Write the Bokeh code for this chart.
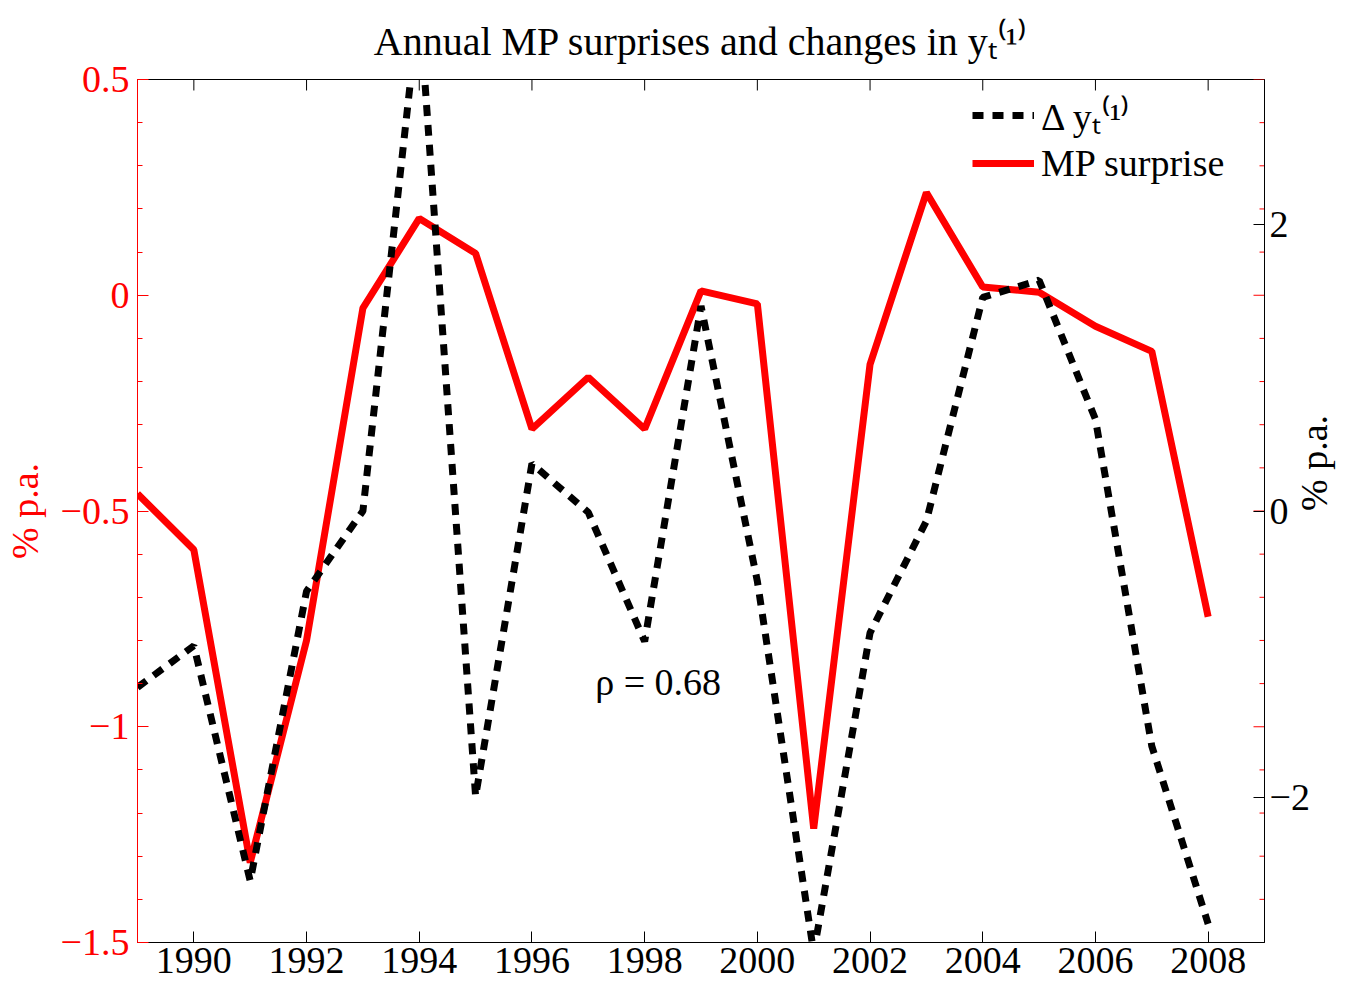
import math
from bokeh.plotting import figure
from bokeh.models import Range1d, LinearAxis, FixedTicker, Legend, LegendItem, Label
from bokeh.embed import file_html
from bokeh.resources import INLINE

# ---- data ----
years = list(range(1989, 2009))
mp_surprise = [-0.46, -0.59, -1.315, -0.80, -0.03, 0.178, 0.097, -0.31, -0.19, -0.31,
               0.01, -0.02, -1.236, -0.16, 0.238, 0.019, 0.007, -0.072, -0.13, -0.745]
delta_y1 = [-1.23, -0.94, -2.58, -0.56, 0.0, 3.55, -1.99, 0.33, -0.01, -0.91,
            1.43, -0.49, -3.08, -0.85, -0.07, 1.49, 1.61, 0.64, -1.64, -2.88]
x_ticks = [1990, 1992, 1994, 1996, 1998, 2000, 2002, 2004, 2006, 2008]
left_ticks = [-1.5, -1.0, -0.5, 0.0, 0.5]
left_labels = ["\u22121.5", "\u22121", "\u22120.5", "0", "0.5"]
left_minor = [round(-1.5 + 0.1 * i, 1) for i in range(21)]
right_ticks = [-2, 0, 2]
right_labels = ["\u22122", "0", "2"]
rho_text = "\u03c1 = 0.68"

FONT = "Liberation Serif"
FS = "38px"
X0, X1 = 1989, 2009
YL0, YL1 = -1.5, 0.5
YR0, YR1 = -3.01, 3.01

W, H = 1358, 987
BL, BR, BT, BB = 136, 94, 78, 45
FW = W - BL - BR
FH = H - BT - BB

p = figure(width=W, height=H, x_range=Range1d(X0, X1), y_range=Range1d(YL0, YL1),
           output_backend="svg", toolbar_location=None,
           min_border_left=BL, min_border_right=BR, min_border_top=BT, min_border_bottom=BB)
p.extra_y_ranges = {"right": Range1d(YR0, YR1)}
p.grid.visible = False
p.outline_line_color = "black"
p.outline_line_width = 1

p.title.text = "Annual MP surprises and changes in y\u209c\u207d\u00b9\u207e"
p.title.align = "center"
p.title.text_font = FONT
p.title.text_font_size = "40px"
p.title.text_font_style = "normal"
p.title.text_color = "black"
p.title.standoff = 32

# bottom axis
xa = p.xaxis[0]
xa.ticker = FixedTicker(ticks=x_ticks, minor_ticks=[])
xa.major_label_text_font = FONT
xa.major_label_text_font_size = FS
xa.major_label_text_color = "black"
xa.major_tick_in = 11
xa.major_tick_out = 0
xa.minor_tick_line_color = None
xa.major_label_standoff = 5
xa.axis_line_color = "black"

# left axis (red)
ya = p.yaxis[0]
ya.ticker = FixedTicker(ticks=left_ticks, minor_ticks=left_minor)
ya.major_label_overrides = {t: l for t, l in zip(left_ticks, left_labels)}
ya.major_label_text_font = FONT
ya.major_label_text_font_size = FS
ya.major_label_text_color = "red"
ya.axis_line_color = "red"
ya.major_tick_line_color = "red"
ya.minor_tick_line_color = "red"
ya.major_tick_in = 11
ya.major_tick_out = 0
ya.minor_tick_in = 5
ya.minor_tick_out = 0
ya.major_label_standoff = 8
ya.axis_label = "% p.a."
ya.axis_label_text_font = FONT
ya.axis_label_text_font_size = FS
ya.axis_label_text_font_style = "normal"
ya.axis_label_text_color = "red"
ya.axis_label_standoff = 12

# right axis (black)
ra = LinearAxis(y_range_name="right", ticker=FixedTicker(ticks=right_ticks, minor_ticks=[]))
ra.major_label_overrides = {t: l for t, l in zip(right_ticks, right_labels)}
ra.major_label_text_font = FONT
ra.major_label_text_font_size = FS
ra.major_label_text_color = "black"
ra.major_tick_in = 11
ra.major_tick_out = 0
ra.major_label_standoff = 5
ra.minor_tick_line_color = None
ra.axis_line_color = "black"
ra.axis_label = "% p.a."
ra.axis_label_text_font = FONT
ra.axis_label_text_font_size = FS
ra.axis_label_text_font_style = "normal"
ra.axis_label_text_color = "black"
ra.axis_label_standoff = 1
ra.axis_label_orientation = math.pi / 2
p.add_layout(ra, "right")

# mirrored ticks: red on right edge (left scale), black on top edge (x ticks)
px_per_year = FW / (X1 - X0)
px_per_left = FH / (YL1 - YL0)
p.segment(x0=[X1] * len(left_minor),
          x1=[X1 - (11 if m in left_ticks else 5) / px_per_year for m in left_minor],
          y0=left_minor, y1=left_minor, line_color="red", line_width=1)
p.segment(x0=x_ticks, x1=x_ticks, y0=[YL1] * len(x_ticks),
          y1=[YL1 - 11 / px_per_left] * len(x_ticks), line_color="black", line_width=1)

# series
red = p.line(years, mp_surprise, line_color="red", line_width=7)
blk = p.line(years, delta_y1, y_range_name="right", line_color="black", line_width=7,
             line_dash="11 9")

p.add_layout(Label(x=1998.24, y=-0.896, text=rho_text, text_align="center",
                   text_baseline="middle", text_font=FONT, text_font_size=FS,
                   text_color="black"))

legend = Legend(items=[LegendItem(label="\u0394 y\u209c\u207d\u00b9\u207e", renderers=[blk]),
                       LegendItem(label="MP surprise", renderers=[red])],
                location=(835, 757), border_line_alpha=0, background_fill_alpha=0,
                label_text_font=FONT, label_text_font_size=FS, label_text_color="black",
                glyph_width=62, glyph_height=40, label_height=40,
                spacing=0, padding=0, margin=0, label_standoff=7)
p.add_layout(legend)

open("out.html", "w").write(file_html(p, INLINE))
